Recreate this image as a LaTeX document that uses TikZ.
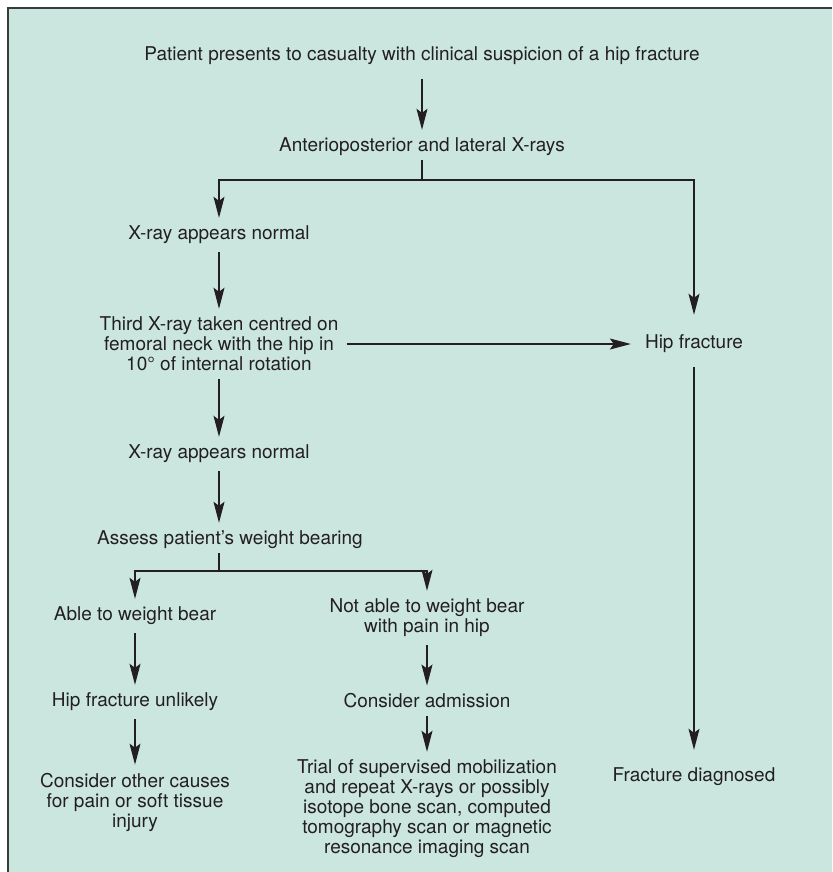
\documentclass[tikz,border=0pt]{standalone}
\usepackage{fontspec}
\setmainfont{TeX Gyre Heros}
\usetikzlibrary{arrows.meta,positioning}
\definecolor{panel}{HTML}{CBE6DF}
\definecolor{ink}{HTML}{231F20}
\definecolor{rim}{HTML}{3A3A3A}
\tikzset{
    %Define standard arrow tip
    >={Stealth[length=21pt,width=11pt,inset=4pt]},
    %Define style for the text steps
    stage/.style={
        align=center,
        inner sep=4pt,
        text=ink,
        font=\fontsize{19}{20}\selectfont
    },
    % Define arrow styles
    pil/.style={
        ->,
        draw=ink,
        line width=1.2pt,
        shorten <=4pt,
        shorten >=4pt},
    fork/.style={
        ->,
        draw=ink,
        line width=1.2pt,
        shorten >=4pt},
    bar/.style={
        draw=ink,
        line width=1.2pt}
}
\begin{document}
\begin{tikzpicture}[x=1pt,y=-1pt]
    \useasboundingbox (0,0) rectangle (832,872);
    \fill[panel] (8,8) rectangle (832,872);
    \draw[rim, line width=2pt] (8,872) -- (8,8) -- (832,8);

    \node[stage] (start) at (422,56) {Patient presents to casualty with clinical suspicion of a hip fracture};
    \node[stage] (xrays) at (422,147) {Anterioposterior and lateral X-rays};
    \node[stage] (normal1) at (219,235) {X-ray appears normal};
    \node[stage] (third) at (219,344) {Third X-ray taken centred on\\femoral neck with the hip in\\10° of internal rotation};
    \node[stage, inner sep=10pt] (hip) at (694,344) {Hip fracture};
    \node[stage] (normal2) at (219,454) {X-ray appears normal};
    \node[stage] (assess) at (230,540) {Assess patient’s weight bearing};
    \node[stage] (able) at (135,616) {Able to weight bear};
    \node[stage] (notable) at (427,618) {Not able to weight bear\\with pain in hip};
    \node[stage] (unlikely) at (135,702) {Hip fracture unlikely};
    \node[stage] (admit) at (427,701) {Consider admission};
    \node[stage] (other) at (135,802) {Consider other causes\\for pain or soft tissue\\injury};
    \node[stage] (trial) at (427,809) {Trial of supervised mobilization\\and repeat X-rays or possibly\\isotope bone scan, computed\\tomography scan or magnetic\\resonance imaging scan};
    \node[stage] (diag) at (694,777) {Fracture diagnosed};

    \coordinate (split1) at (422,180);
    \coordinate (split2) at (219,571);

    \draw[pil, shorten <=10pt] (start) -- (xrays);
    \draw[bar] (xrays.south) -- (split1);
    \draw[fork] (split1) -| (normal1);
    \draw[fork, shorten >=10pt] (split1) -| (hip);
    \draw[pil] (normal1) -- (third);
    \draw[pil] (third) -- (hip);
    \draw[pil, shorten >=14pt] (hip) -- (diag);
    \draw[pil] (third) -- (normal2);
    \draw[pil] (normal2) -- (normal2 |- assess.north);
    \draw[bar] (assess.south -| split2) -- (split2);
    \draw[fork] (split2) -| (able);
    \draw[fork] (split2) -| (notable);
    \draw[pil] (able) -- (unlikely);
    \draw[pil] (unlikely) -- (other);
    \draw[pil] (notable) -- (admit);
    \draw[pil] (admit) -- (trial);
\end{tikzpicture}
\end{document}
